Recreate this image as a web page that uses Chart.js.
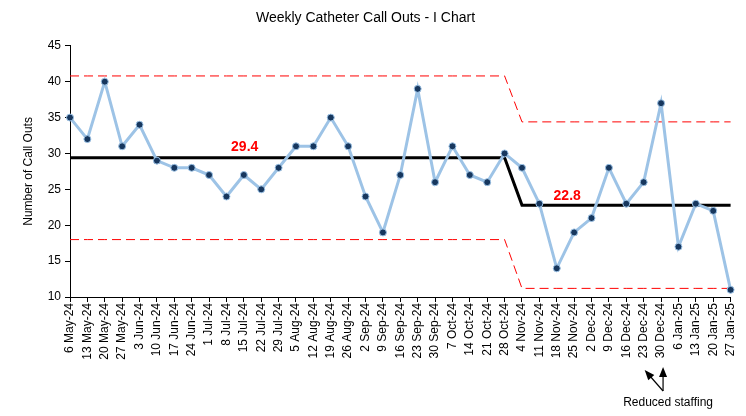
<!DOCTYPE html>
<html>
<head>
<meta charset="utf-8">
<script src="https://cdn.jsdelivr.net/npm/chart.js@4.4.0/dist/chart.umd.min.js"></script>
<style>
  html, body { margin: 0; padding: 0; background: #fff; }
  #wrap { width: 746px; height: 416px; }
</style>
</head>
<body>
<div id="wrap"><canvas id="chart" width="746" height="416"></canvas></div>
<script>
const weeks = ['6 May-24','13 May-24','20 May-24','27 May-24','3 Jun-24','10 Jun-24','17 Jun-24','24 Jun-24',
  '1 Jul-24','8 Jul-24','15 Jul-24','22 Jul-24','29 Jul-24','5 Aug-24','12 Aug-24','19 Aug-24','26 Aug-24',
  '2 Sep-24','9 Sep-24','16 Sep-24','23 Sep-24','30 Sep-24','7 Oct-24','14 Oct-24','21 Oct-24','28 Oct-24',
  '4 Nov-24','11 Nov-24','18 Nov-24','25 Nov-24','2 Dec-24','9 Dec-24','16 Dec-24','23 Dec-24','30 Dec-24',
  '6 Jan-25','13 Jan-25','20 Jan-25','27 Jan-25'];

const callOuts = [35, 32, 40, 31, 34, 29, 28, 28, 27, 24, 27, 25, 28, 31, 31, 35, 31,
  24, 19, 27, 39, 26, 31, 27, 26, 30, 28, 23, 14, 19, 21, 28, 23, 26, 37, 17, 23, 22, 11];

// phase 1 covers the first 26 weeks, phase 2 the rest
const phaseLen = [26, 13];
const meanVals = [29.4, 22.8];
const uclVals = [40.8, 34.4];
const lclVals = [18.0, 11.2];

const yTicks = [10, 15, 20, 25, 30, 35, 40, 45];
const note = 'Reduced staffing';
const noteWeeks = ['23 Dec-24', '30 Dec-24'];

const stepped = vals => vals.flatMap((v, i) => Array(phaseLen[i]).fill(v));

const FONT = 'Liberation Sans, Arial, sans-serif';

const annotations = {
  id: 'annotations',
  afterDatasetsDraw(chart) {
    const { ctx, scales: { x, y } } = chart;
    ctx.save();
    // phase mean labels
    ctx.fillStyle = '#FF0000';
    ctx.font = 'bold 14px ' + FONT;
    ctx.textAlign = 'center';
    ctx.textBaseline = 'middle';
    ctx.fillText(meanVals[0].toFixed(1), x.getPixelForValue(10.05), y.getPixelForValue(30.9));
    ctx.fillText(meanVals[1].toFixed(1), x.getPixelForValue(28.6), y.getPixelForValue(24.1));

    // reduced staffing note with arrows
    const i1 = weeks.indexOf(noteWeeks[0]);
    const i2 = weeks.indexOf(noteWeeks[1]);
    const tailX = x.getPixelForValue(i2) + 2;
    const tailY = 391;
    const heads = [[x.getPixelForValue(i1) + 1, 370], [x.getPixelForValue(i2) + 2, 367]];
    ctx.strokeStyle = '#000';
    ctx.fillStyle = '#000';
    ctx.lineWidth = 1.2;
    heads.forEach(([hx, hy]) => {
      const ang = Math.atan2(hy - tailY, hx - tailX);
      const len = 10, wid = 4;
      ctx.beginPath();
      ctx.moveTo(tailX, tailY);
      ctx.lineTo(hx - len * 0.6 * Math.cos(ang), hy - len * 0.6 * Math.sin(ang));
      ctx.stroke();
      ctx.beginPath();
      ctx.moveTo(hx, hy);
      ctx.lineTo(hx - len * Math.cos(ang) + wid * Math.sin(ang), hy - len * Math.sin(ang) - wid * Math.cos(ang));
      ctx.lineTo(hx - len * Math.cos(ang) - wid * Math.sin(ang), hy - len * Math.sin(ang) + wid * Math.cos(ang));
      ctx.closePath();
      ctx.fill();
    });
    ctx.font = '12px ' + FONT;
    ctx.fillStyle = '#000';
    ctx.fillText(note, tailX + 5, 403);
    ctx.restore();
  }
};

new Chart(document.getElementById('chart'), {
  type: 'line',
  data: {
    labels: weeks,
    datasets: [
      {
        data: callOuts,
        borderColor: '#9DC3E6', borderWidth: 3,
        pointRadius: 3.5, pointBackgroundColor: '#17375E',
        pointBorderColor: '#9DC3E6', pointBorderWidth: 1,
        order: 1
      },
      {
        data: stepped(meanVals),
        borderColor: '#000', borderWidth: 3, pointRadius: 0, order: 2
      },
      {
        data: stepped(uclVals),
        borderColor: '#FF0000', borderWidth: 1, borderDash: [9, 5], pointRadius: 0, order: 3
      },
      {
        data: stepped(lclVals),
        borderColor: '#FF0000', borderWidth: 1, borderDash: [9, 5], pointRadius: 0, order: 3
      }
    ]
  },
  options: {
    responsive: false,
    animation: false,
    layout: { padding: { left: 0, right: 15, top: 10, bottom: 0 } },
    plugins: {
      legend: { display: false },
      tooltip: { enabled: false },
      title: {
        display: true,
        text: 'Weekly Catheter Call Outs - I Chart',
        color: '#000',
        font: { family: FONT, size: 14, weight: 'normal' },
        padding: { top: 0, bottom: 19 }
      }
    },
    scales: {
      x: {
        offset: false,
        grid: { drawOnChartArea: false, color: '#000', tickLength: 5 },
        border: { color: '#000' },
        ticks: {
          color: '#000', font: { family: FONT, size: 12 },
          minRotation: 90, maxRotation: 90, autoSkip: false, padding: 1
        },
        afterFit(s) { s.height = 119; }
      },
      y: {
        min: yTicks[0], max: yTicks[yTicks.length - 1],
        afterBuildTicks(s) { s.ticks = yTicks.map(v => ({ value: v })); },
        grid: { drawOnChartArea: false, color: '#000', tickLength: 5 },
        border: { color: '#000' },
        ticks: { color: '#000', font: { family: FONT, size: 12 }, padding: 4 },
        title: {
          display: true, text: 'Number of Call Outs', color: '#000',
          font: { family: FONT, size: 12 }, padding: { top: 21, bottom: 0 }
        },
        afterFit(s) { s.width = 70; }
      }
    }
  },
  plugins: [annotations]
});
</script>
</body>
</html>
